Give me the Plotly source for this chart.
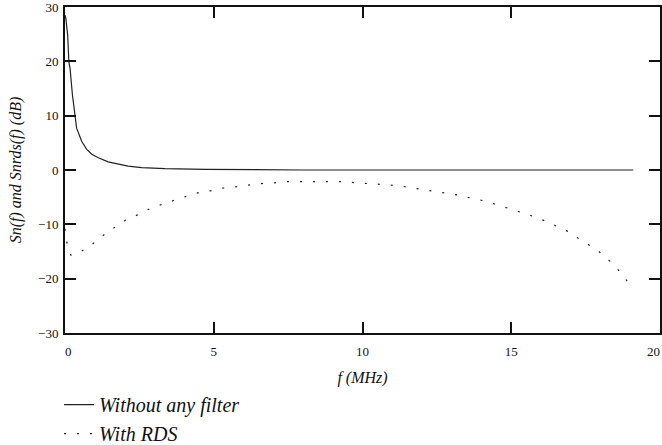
import plotly.graph_objects as go

# frequency (MHz) and level (dB)
f_nofilter = [0.0, 0.03, 0.09, 0.13, 0.17, 0.25, 0.34, 0.39, 0.56, 0.73, 0.9, 1.12,
              1.45, 1.79, 2.12, 2.58, 3.36, 4.7, 5.85, 5.9, 8.0, 12.0, 16.0, 19.1]
s_nofilter = [28.5, 27.8, 24.8, 19.9, 18.7, 13.8, 9.9, 7.7, 5.3, 3.8, 2.9, 2.25,
              1.5, 1.15, 0.7, 0.42, 0.24, 0.13, 0.1, 0.0, 0.0, 0.0, 0.0, 0.0]

f_rds = [0.0, 0.06, 0.2, 0.56, 0.87, 1.12, 1.42, 1.71, 2.04, 2.35, 2.69, 3.06, 3.42,
         3.77, 4.14, 4.5, 4.87, 5.29, 5.71, 6.11, 6.55, 6.98, 7.42, 7.88, 8.35, 8.83,
         9.35, 9.89, 10.34, 10.79, 11.22, 11.63, 12.04, 12.47, 12.85, 13.25, 13.67,
         14.06, 14.43, 14.81, 15.22, 15.57, 15.91, 16.25, 16.58, 16.9, 17.2, 17.54,
         17.85, 18.12, 18.38, 18.63, 18.96, 19.1]
s_rds = [-10.8, -13.3, -15.7, -14.9, -13.9, -12.7, -11.5, -10.4, -9.2, -8.5, -7.5,
         -6.7, -6.0, -5.4, -4.75, -4.15, -3.85, -3.35, -3.1, -2.75, -2.5, -2.4, -2.15,
         -2.15, -2.15, -2.15, -2.15, -2.4, -2.5, -2.7, -2.9, -3.25, -3.65, -3.9, -4.25,
         -4.65, -5.2, -5.65, -6.25, -6.9, -7.5, -8.2, -8.9, -9.6, -10.5, -11.3, -12.4,
         -13.5, -14.6, -15.8, -17.1, -18.6, -20.9, -21.5]

x_ticks = [0, 5, 10, 15, 20]
# figure spaces nudge the end labels inside the page, like the original
x_labels = ["\u20070", "5", "10", "15", "20\u2007\u2007"]
y_ticks = [-30, -20, -10, 0, 10, 20, 30]

serif = "Liberation Serif"

fig = go.Figure()
fig.add_trace(go.Scatter(x=f_nofilter, y=s_nofilter, mode="lines",
                         name="Without any filter",
                         line=dict(color="#222222", width=1.2)))
fig.add_trace(go.Scatter(x=f_rds, y=s_rds, mode="lines", name="With RDS",
                         line=dict(color="#222222", width=1.2, dash="2px,11px")))

axis_common = dict(showline=True, linecolor="#111111", linewidth=2, mirror="allticks",
                   ticks="inside", ticklen=11, tickwidth=1.5, tickcolor="#111111",
                   showgrid=False, zeroline=False, ticklabeloverflow="allow",
                   automargin=False,
                   tickfont=dict(family=serif, size=13, color="#111111"))

fig.update_xaxes(range=[0, 20], tickvals=x_ticks, ticktext=x_labels, ticklabelstandoff=5,
                 title=dict(text="f (MHz)", standoff=14,
                            font=dict(family=serif, size=16, style="italic", color="#111111")),
                 **axis_common)
fig.update_yaxes(range=[-30, 30], tickvals=y_ticks, ticklabelstandoff=2,
                 title=dict(text="Sn(f) and Snrds(f) (dB)", standoff=12,
                            font=dict(family=serif, size=16, style="italic", color="#111111")),
                 **axis_common)

fig.update_layout(
    width=662, height=445,
    margin=dict(l=65, r=2, t=7, b=112, autoexpand=False),
    plot_bgcolor="white", paper_bgcolor="white",
    showlegend=True,
    legend=dict(x=-0.010, y=-0.160, xanchor="left", yanchor="top",
                orientation="v", bgcolor="rgba(0,0,0,0)",
                font=dict(family=serif, size=20, style="italic", color="#111111"),
                tracegroupgap=0),
)

# drop the default 8px body margin so the figure fills the window
fig.write_html("out.html", config={"displayModeBar": False},
               post_script="document.body.style.margin='0';")
